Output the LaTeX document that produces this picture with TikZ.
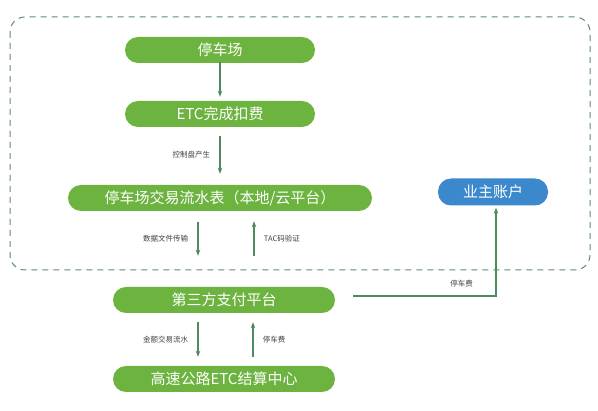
\documentclass[tikz,border=0pt]{standalone}
\usepackage{fontspec}
\setmainfont{Noto Sans CJK SC}
\usetikzlibrary{arrows.meta}
\definecolor{boxgreen}{HTML}{6CB33F}
\definecolor{boxblue}{HTML}{3B88CC}
\definecolor{linegreen}{HTML}{4E8A5E}
\definecolor{dashgreen}{HTML}{5E8A74}

\begin{document}
\begin{tikzpicture}[x=1pt, y=-1pt,
        stepbox/.style = {fill=boxgreen, text=white, rounded corners=13pt,
            minimum height=26pt, inner sep=0pt, font=\fontsize{15}{17}\selectfont},
        ownerbox/.style = {stepbox, fill=boxblue, minimum height=27pt},
        flow/.style = {linegreen, line width=1.1pt, -{Stealth[length=6pt,width=4.5pt]}},
        tag/.style = {font=\fontsize{7.5}{9}\selectfont, text=black!75}]
        \useasboundingbox (0,0) rectangle (598,411);

        % dashed frame
        \draw [dashgreen, line width=1pt, dash pattern=on 6pt off 5pt, rounded corners=15pt]
            (10,17) rectangle (590,270);

        % boxes
        \node [stepbox, minimum width=190pt] (park) at (220,50) {停车场};
        \node [stepbox, minimum width=190pt] (etc) at (220,114) {ETC完成扣费};
        \node [stepbox, minimum width=304pt] (flowtab) at (220,198) {停车场交易流水表（本地/云平台）};
        \node [stepbox, minimum width=222pt] (pay) at (224,300) {第三方支付平台};
        \node [stepbox, minimum width=222pt] (center) at (224,379) {高速公路ETC结算中心};
        \node [ownerbox, minimum width=110pt] (owner) at (493,192) {业主账户};

        % connectors
        \draw [flow] (park.south) ++(0,-1) -- ([yshift=4pt]etc.north);
        \draw [flow] ([yshift=-9pt]etc.south) -- node [tag, left=6pt] {控制盘产生} ([yshift=11pt]flowtab.north);

        \draw [flow] ([xshift=-22pt, yshift=-11pt]flowtab.south) -- node [tag, left=6pt] {数据文件传输} ([xshift=-26pt, yshift=31pt]pay.north);
        \draw [flow] ([xshift=30pt, yshift=31pt]pay.north) -- node [tag, right=6pt] {TAC码验证} ([xshift=34pt, yshift=-10pt]flowtab.south);

        \draw [flow] ([xshift=-26pt, yshift=-9pt]pay.south) -- node [tag, left=6pt] {金额交易流水} ([xshift=-26pt, yshift=9pt]center.north);
        \draw [flow] ([xshift=29pt, yshift=9pt]center.north) -- node [tag, right=6pt] {停车费} ([xshift=29pt, yshift=-9pt]pay.south);

        \coordinate (payout) at ([xshift=18pt, yshift=4pt]pay.east);
        \draw [flow] (payout) -| node [tag, pos=0.38, above=5pt] {停车费} ([xshift=3pt, yshift=-2pt]owner.south);
\end{tikzpicture}
\end{document}
